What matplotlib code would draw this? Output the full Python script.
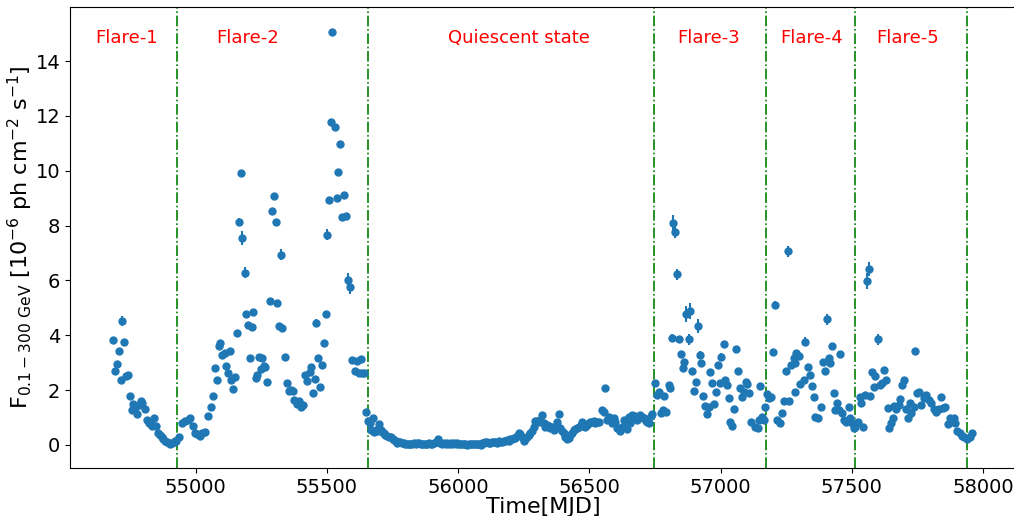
import numpy as np
import matplotlib
matplotlib.use("Agg")
import matplotlib.pyplot as plt

# ---------------- data (MJD, flux in 1e-6 ph cm^-2 s^-1) ----------------
mjd_flare1 = [54686, 54694, 54700, 54708, 54715, 54720, 54728, 54736, 54743, 54750,
              54756, 54762, 54769, 54776, 54783, 54790, 54795, 54806, 54814, 54823,
              54830, 54835, 54840, 54849, 54855, 54863, 54870, 54876, 54884, 54891,
              54897, 54903, 54910, 54916, 54922, 54926]
flux_flare1 = [3.83, 2.69, 2.94, 3.43, 2.37, 4.52, 3.77, 2.50, 2.55, 1.79,
               1.28, 1.50, 1.35, 1.13, 1.45, 1.60, 1.54, 1.30, 0.91, 0.81,
               0.75, 0.70, 1.00, 0.70, 0.45, 0.36, 0.30, 0.21, 0.15, 0.12,
               0.08, 0.04, 0.08, 0.10, 0.14, 0.16]

mjd_flare2 = [54937, 54948, 54961, 54970, 54980, 54989, 54996, 55005, 55015, 55025,
              55037, 55047, 55059, 55066, 55073, 55080, 55088, 55094, 55101, 55111,
              55116, 55122, 55130, 55136, 55141, 55149, 55157, 55165, 55171, 55178,
              55186, 55192, 55200, 55206, 55213, 55220, 55228, 55235, 55241, 55247,
              55254, 55260, 55264, 55273, 55282, 55290, 55298, 55304, 55311, 55319,
              55326, 55330, 55340, 55346, 55355, 55362, 55369, 55374, 55384, 55393,
              55400, 55410, 55415, 55425, 55435, 55440, 55447, 55453, 55459, 55467,
              55474, 55480, 55487, 55495, 55501, 55509, 55516, 55520, 55530, 55537,
              55543, 55551, 55556, 55565, 55573, 55579, 55587, 55597, 55607, 55614,
              55623, 55629, 55635, 55642, 55649]
flux_flare2 = [0.28, 0.79, 0.87, 0.92, 1.00, 0.70, 0.45, 0.40, 0.33, 0.43,
               0.48, 1.07, 1.40, 1.80, 2.81, 2.38, 3.62, 3.71, 3.28, 3.34,
               2.88, 2.64, 3.42, 2.37, 2.05, 2.47, 4.10, 8.13, 9.93, 7.54,
               6.28, 4.79, 4.37, 3.18, 4.29, 4.86, 2.43, 2.55, 3.22, 2.76,
               3.16, 2.88, 2.85, 2.29, 5.25, 8.52, 9.08, 8.13, 5.17, 4.35,
               6.93, 4.25, 3.22, 2.25, 1.98, 2.00, 1.98, 1.64, 1.48, 1.60,
               1.40, 1.46, 2.55, 2.33, 2.67, 2.85, 1.91, 2.42, 4.46, 3.18,
               2.13, 2.90, 3.71, 4.78, 7.66, 8.94, 11.79, 15.05, 11.60, 9.00,
               9.96, 10.97, 8.32, 9.13, 8.36, 6.02, 5.75, 3.10, 2.71, 3.07,
               2.61, 3.12, 2.62, 2.64, 1.19]

mjd_quiet = [55656, 55663, 55669, 55676, 55680, 55685, 55691, 55697, 55704, 55710,
             55716, 55723, 55729, 55736, 55744, 55750, 55756, 55762, 55768, 55774,
             55780, 55787, 55793, 55799, 55806, 55812, 55818, 55825, 55831, 55838,
             55844, 55850, 55857, 55863, 55869, 55876, 55882, 55888, 55895, 55901,
             55908, 55914, 55922, 55927, 55932, 55939, 55945, 55952, 55958, 55964,
             55971, 55977, 55983, 55990, 55996, 56002, 56008, 56015, 56021, 56027,
             56034, 56040, 56047, 56053, 56059, 56066, 56072, 56078, 56085, 56091,
             56097, 56104, 56110, 56116, 56122, 56129, 56135, 56141, 56148, 56154,
             56161, 56167, 56173, 56180, 56186, 56192, 56199, 56205, 56211, 56218,
             56224, 56230, 56236, 56243, 56250, 56256, 56262, 56269, 56275, 56282,
             56288, 56294, 56301, 56307, 56313, 56320, 56326, 56332, 56339, 56345,
             56351, 56358, 56364, 56370, 56376, 56383, 56389, 56396, 56402, 56408,
             56415, 56421, 56427, 56434, 56440, 56446, 56453, 56459, 56466, 56472,
             56478, 56485, 56491, 56497, 56504, 56510, 56516, 56523, 56529, 56535,
             56548, 56554, 56561, 56567, 56573, 56580, 56586, 56592, 56599, 56605,
             56611, 56618, 56624, 56630, 56637, 56643, 56650, 56656, 56662, 56669,
             56675, 56682, 56688, 56694, 56701, 56707, 56714, 56720, 56726, 56733,
             56739]
flux_quiet = [0.89, 0.79, 0.55, 0.97, 0.49, 0.55, 0.51, 0.75, 0.55, 0.49,
              0.43, 0.36, 0.33, 0.30, 0.28, 0.22, 0.18, 0.14, 0.08, 0.10,
              0.12, 0.07, 0.06, 0.04, 0.05, 0.03, 0.02, 0.05, 0.06, 0.04,
              0.07, 0.08, 0.05, 0.03, 0.02, 0.04, 0.04, 0.06, 0.05, 0.04,
              0.07, 0.09, 0.21, 0.10, 0.06, 0.05, 0.07, 0.04, 0.08, 0.05,
              0.06, 0.04, 0.06, 0.05, 0.06, 0.03, 0.04, 0.05, 0.03, 0.04,
              0.01, 0.03, 0.05, 0.04, 0.02, 0.04, 0.04, 0.03, 0.01, 0.06,
              0.08, 0.10, 0.12, 0.08, 0.07, 0.10, 0.12, 0.09, 0.08, 0.13,
              0.12, 0.10, 0.15, 0.16, 0.18, 0.14, 0.20, 0.21, 0.24, 0.27,
              0.33, 0.43, 0.40, 0.30, 0.15, 0.22, 0.28, 0.38, 0.45, 0.52,
              0.64, 0.89, 0.89, 0.85, 0.91, 1.09, 0.80, 0.67, 0.73, 0.70,
              0.61, 0.65, 0.55, 0.58, 0.85, 1.13, 0.61, 0.52, 0.45, 0.30,
              0.21, 0.25, 0.36, 0.45, 0.55, 0.58, 0.61, 0.67, 0.73, 0.85,
              0.70, 0.64, 0.73, 0.80, 0.85, 0.85, 0.89, 0.81, 0.83, 0.85,
              1.28, 1.21, 2.07, 0.91, 1.03, 0.95, 0.79, 0.97, 0.85, 0.61,
              0.58, 0.52, 0.65, 0.91, 0.67, 0.60, 1.01, 0.80, 1.09, 0.97,
              1.06, 0.91, 1.00, 1.09, 1.01, 0.97, 0.88, 0.85, 0.80, 1.05,
              1.13]

mjd_flare3 = [56751, 56758, 56764, 56773, 56781, 56786, 56793, 56802, 56808, 56815,
              56820, 56827, 56835, 56842, 56849, 56855, 56862, 56869, 56878, 56885,
              56891, 56899, 56906, 56912, 56920, 56926, 56933, 56939, 56948, 56957,
              56961, 56968, 56976, 56982, 56990, 56996, 57003, 57011, 57018, 57024,
              57030, 57037, 57045, 57052, 57059, 57066, 57072, 57082, 57088, 57095,
              57101, 57107, 57117, 57132, 57141, 57147, 57150, 57158, 57164, 57170]
flux_flare3 = [2.25, 1.82, 1.94, 1.18, 1.28, 1.79, 1.21, 2.19, 2.07, 3.89,
               8.08, 7.78, 6.22, 3.88, 3.32, 2.80, 3.04, 4.78, 3.85, 4.89,
               2.71, 1.98, 2.31, 4.35, 3.29, 2.98, 1.79, 1.43, 1.13, 1.37,
               2.67, 2.25, 1.48, 1.92, 2.90, 2.25, 3.20, 3.67, 2.37, 2.19,
               1.71, 0.83, 0.69, 1.32, 3.49, 2.70, 2.09, 1.76, 1.94, 2.31,
               2.22, 1.88, 0.85, 0.64, 0.61, 0.91, 2.15, 1.01, 0.91, 1.40]

mjd_flare4 = [57176, 57183, 57192, 57200, 57208, 57215, 57225, 57235, 57243, 57249,
              57257, 57262, 57268, 57278, 57282, 57285, 57288, 57297, 57304, 57316,
              57323, 57333, 57339, 57348, 57354, 57361, 57371, 57382, 57389, 57396,
              57405, 57411, 57418, 57424, 57430, 57437, 57443, 57450, 57456, 57462,
              57471, 57479, 57488, 57494, 57501, 57507]
flux_flare4 = [1.85, 1.70, 1.74, 3.38, 5.10, 0.91, 0.79, 1.18, 1.60, 2.70,
               7.07, 1.60, 2.90, 3.16, 1.94, 3.00, 3.34, 3.24, 2.21, 2.37,
               3.77, 2.83, 2.55, 2.15, 1.76, 1.03, 0.97, 1.40, 3.01, 2.71,
               4.58, 3.16, 2.98, 3.62, 1.91, 1.28, 1.54, 1.28, 3.32, 1.18,
               0.91, 0.85, 1.40, 0.97, 0.79, 0.61]

mjd_flare5 = [57513, 57522, 57530, 57536, 57542, 57551, 57558, 57564, 57570, 57577,
              57583, 57589, 57601, 57608, 57615, 57624, 57629, 57636, 57643, 57649,
              57657, 57662, 57669, 57678, 57685, 57691, 57697, 57707, 57714, 57720,
              57726, 57735, 57742, 57748, 57757, 57763, 57773, 57784, 57792, 57801,
              57811, 57821, 57830, 57839, 57847, 57855, 57868, 57875, 57888, 57894,
              57900, 57910, 57920, 57928, 57939, 57949, 57958]
flux_flare5 = [0.67, 0.85, 1.76, 1.54, 0.67, 1.82, 5.98, 6.41, 1.79, 2.67,
               2.10, 2.52, 3.85, 2.19, 2.27, 2.73, 2.37, 1.36, 0.61, 0.79,
               0.97, 1.42, 1.30, 1.46, 1.68, 2.19, 2.37, 1.30, 1.00, 1.54,
               1.18, 1.37, 3.44, 1.88, 1.94, 1.46, 1.70, 1.82, 1.64, 1.54,
               1.30, 1.21, 1.30, 1.74, 1.34, 1.37, 0.77, 0.97, 0.97, 0.79,
               0.52, 0.43, 0.33, 0.28, 0.21, 0.30, 0.43]

# visible flux errors (others small)
default_err = 0.06
big_err = {54720: 0.2, 55165: 0.15, 55178: 0.25, 55186: 0.2, 55326: 0.2,
           55459: 0.15, 55495: 0.12, 55501: 0.2, 55579: 0.25, 55587: 0.25,
           56815: 0.15, 56820: 0.3, 56827: 0.25, 56835: 0.2, 56869: 0.3,
           56885: 0.3, 56912: 0.25, 56878: 0.2, 56920: 0.15, 57003: 0.15,
           57208: 0.15, 57257: 0.2, 57323: 0.15, 57405: 0.2, 57558: 0.3,
           57564: 0.25, 57601: 0.2, 57742: 0.1}

boundaries = [54929, 55656, 56746, 57174, 57511, 57937]
region_names = ["Flare-1", "Flare-2", "Quiescent state", "Flare-3", "Flare-4", "Flare-5"]
region_label_x = [54736, 55197, 56233, 56954, 57346, 57711]

# ---------------- plot ----------------
mjd = np.array(mjd_flare1 + mjd_flare2 + mjd_quiet + mjd_flare3 + mjd_flare4 + mjd_flare5)
flux = np.array(flux_flare1 + flux_flare2 + flux_quiet + flux_flare3 + flux_flare4 + flux_flare5)
err = np.array([big_err.get(m, default_err) for m in mjd])

W, H = 1014, 516
fig = plt.figure(figsize=(W / 100, H / 100), dpi=100)
ax = fig.add_axes([70 / W, (H - 468) / H, (1017 - 70) / W, (468 - 7) / H])

ax.errorbar(mjd, flux, yerr=err, fmt='o', color='#1f77b4', ms=5,
            elinewidth=1.5, capsize=0)

for b in boundaries:
    ax.axvline(b, color='g', ls='-.', lw=1.2)

for name, xpos in zip(region_names, region_label_x):
    ax.text(xpos, 14.85, name, color='red', fontsize=13, ha='center', va='center')

ax.set_xlim(54521, 58129)
ax.set_ylim(-0.84, 15.97)
ax.set_xticks([55000, 55500, 56000, 56500, 57000, 57500, 58000])
ax.set_yticks(range(0, 15, 2))
ax.tick_params(labelsize=14)
ax.set_xlabel('Time[MJD]', fontsize=16, labelpad=0)
ax.set_ylabel(r'F$_{0.1-300\ \mathrm{GeV}}$ [10$^{-6}$ ph cm$^{-2}$ s$^{-1}$]',
              fontsize=16)
ax.yaxis.set_label_coords(-0.037, 0.5)

fig.savefig('out.png', dpi=100)
